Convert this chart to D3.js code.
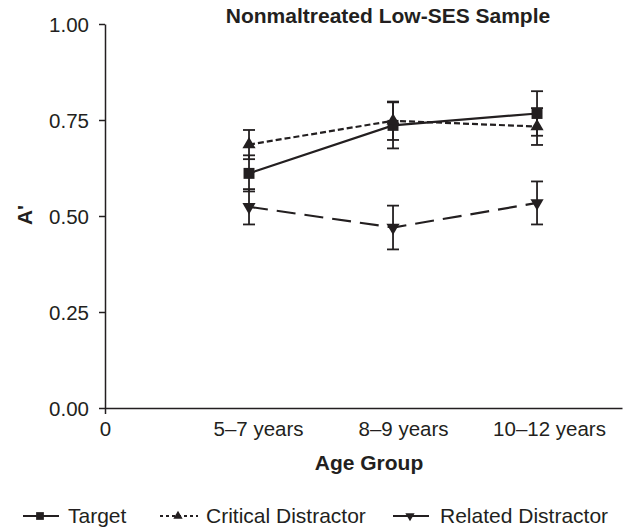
<!DOCTYPE html>
<html>
<head>
<meta charset="utf-8">
<script src="https://cdn.jsdelivr.net/npm/d3@7"></script>
<style>
  body { margin: 0; background: #fff; }
  text { font-family: "Liberation Sans", Arial, sans-serif; fill: #231f20; }
</style>
</head>
<body>
<div id="chart-area"></div>
<script>
// data
const ageGroups = ["5–7 years", "8–9 years", "10–12 years"]
const targetMean = [0.611, 0.736, 0.767]
const targetErr = [0.047, 0.060, 0.058]
const criticalMean = [0.686, 0.748, 0.733]
const criticalErr = [0.038, 0.050, 0.048]
const relatedMean = [0.524, 0.470, 0.534]
const relatedErr = [0.046, 0.057, 0.056]
const yTicks = [0, 0.25, 0.5, 0.75, 1]

const INK = "#231f20"
const MARGIN = { LEFT: 105, RIGHT: 3, TOP: 24, BOTTOM: 123 }
const WIDTH = 625 - MARGIN.LEFT - MARGIN.RIGHT
const HEIGHT = 531 - MARGIN.TOP - MARGIN.BOTTOM

const svg = d3.select("#chart-area").append("svg")
  .attr("width", 625)
  .attr("height", 531)

const g = svg.append("g")
  .attr("transform", `translate(${MARGIN.LEFT}, ${MARGIN.TOP})`)

// scales
const x = d3.scaleLinear()
  .domain([0, 3.59])
  .range([0, WIDTH])
const y = d3.scaleLinear()
  .domain([0, 1])
  .range([HEIGHT, 0])

// axes
const yAxis = g.append("g")
  .call(d3.axisLeft(y).tickValues(yTicks).tickFormat(d3.format(".2f")).tickSize(6).tickSizeOuter(0).tickPadding(10))
yAxis.selectAll("text").attr("font-size", "20.5px").attr("dy", "0.36em")

const xAxis = g.append("g")
  .attr("transform", `translate(0, ${HEIGHT})`)
  .call(d3.axisBottom(x).tickValues([0, 1, 2, 3])
    .tickFormat(i => i === 0 ? "0" : ageGroups[i - 1])
    .tickSize(6).tickSizeOuter(0).tickPadding(7))
xAxis.selectAll("text").attr("font-size", "20.5px")
  .attr("dx", (d, i) => [0, 9, 10, 12][i])
xAxis.selectAll(".tick line").attr("opacity", d => d === 0 ? 1 : 0)
svg.selectAll(".domain, .tick line").attr("stroke", INK).attr("stroke-width", 1.5)
svg.selectAll(".tick text").attr("fill", INK).style("font-family", "Liberation Sans, Arial, sans-serif")

// labels
svg.append("text")
  .attr("x", 388).attr("y", 23)
  .attr("text-anchor", "middle")
  .attr("font-size", "21px").attr("font-weight", "bold")
  .text("Nonmaltreated Low-SES Sample")
svg.append("text")
  .attr("x", 369).attr("y", 470)
  .attr("text-anchor", "middle")
  .attr("font-size", "21px").attr("font-weight", "bold")
  .text("Age Group")
svg.append("text")
  .attr("transform", "translate(32, 215) rotate(-90)")
  .attr("text-anchor", "middle")
  .attr("font-size", "21px").attr("font-weight", "bold")
  .text("A'")

// series
const series = [
  { name: "Target", mean: targetMean, err: targetErr, dash: null, symbol: d3.symbolSquare, size: 120, rot: 0 },
  { name: "Critical Distractor", mean: criticalMean, err: criticalErr, dash: "6,3", symbol: d3.symbolTriangle, size: 75, rot: 0 },
  { name: "Related Distractor", mean: relatedMean, err: relatedErr, dash: "19,9", symbol: d3.symbolTriangle, size: 75, rot: 180 }
]

const line = d3.line()
  .x((d, i) => x(i + 1))
  .y(d => y(d))

series.forEach(s => {
  const sg = g.append("g")
  // error bars
  s.mean.forEach((m, i) => {
    const cx = x(i + 1)
    sg.append("line")
      .attr("x1", cx).attr("x2", cx)
      .attr("y1", y(m - s.err[i])).attr("y2", y(m + s.err[i]))
      .attr("stroke", INK).attr("stroke-width", 1.8)
    ;[m - s.err[i], m + s.err[i]].forEach(v => {
      sg.append("line")
        .attr("x1", cx - 6).attr("x2", cx + 6)
        .attr("y1", y(v)).attr("y2", y(v))
        .attr("stroke", INK).attr("stroke-width", 1.8)
    })
  })
  sg.append("path")
    .datum(s.mean)
    .attr("d", line)
    .attr("fill", "none")
    .attr("stroke", INK)
    .attr("stroke-width", 2.2)
    .attr("stroke-dasharray", s.dash)
  sg.selectAll(".pt")
    .data(s.mean)
    .enter().append("path")
    .attr("d", d3.symbol().type(s.symbol).size(s.size))
    .attr("transform", (d, i) => `translate(${x(i + 1)}, ${y(d)}) rotate(${s.rot})`)
    .attr("fill", INK)
})

// legend
const legendX = [23, 160, 393]
const legend = svg.append("g").attr("transform", "translate(0, 516)")
series.forEach((s, i) => {
  const row = legend.append("g").attr("transform", `translate(${legendX[i]}, 0)`)
  row.append("line")
    .attr("x1", 0).attr("x2", i === 1 ? 38 : 36)
    .attr("stroke", INK).attr("stroke-width", 2)
    .attr("stroke-dasharray", i === 1 ? "3,3" : null)
  row.append("path")
    .attr("d", d3.symbol().type(s.symbol).size(s.size * 0.5))
    .attr("transform", `translate(${i === 1 ? 18 : 17}, 0) rotate(${s.rot})`)
    .attr("fill", INK)
  row.append("text")
    .attr("x", [45, 46, 47][i]).attr("y", 7)
    .attr("font-size", "21px")
    .text(s.name)
})
</script>
</body>
</html>
